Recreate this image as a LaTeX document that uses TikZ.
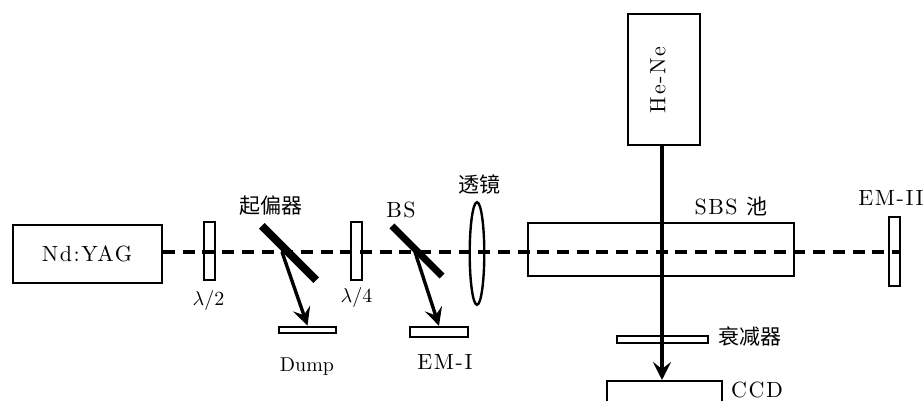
\documentclass[tikz,border=0pt]{standalone}
\usepackage{fontspec}
\usepackage{tikz}
\usetikzlibrary{arrows.meta,shapes.geometric}
\newfontfamily\cjk{Noto Sans CJK SC}
\newfontfamily\widefont[LetterSpace=7]{Latin Modern Roman}
\tikzset{
	devicebox/.style={draw,line width=1.2pt,inner sep=0pt},
	mirrorbar/.style={fill=black,inner sep=0pt},
	beamline/.style={line width=2pt,dash pattern=on 6pt off 3.85pt},
	rayline/.style={line width=1.7pt,-{Stealth[length=9pt,width=9pt,inset=3.5pt]}},
	widetext/.style={font=\widefont\fontsize{11}{13}\selectfont},
	cjktext/.style={font=\cjk\fontsize{10.5}{12}\selectfont},
}
\begin{document}
\begin{tikzpicture}[x=0.5pt,y=-0.5pt]
	\path[use as bounding box] (0,0) rectangle (923,401);
	\clip (0,0) rectangle (923,401);
	% devices on the main axis
	\node[devicebox,minimum width=74.3pt,minimum height=28.8pt] (yag) at (87.5,254) {};
	\node[devicebox,minimum width=5.5pt,minimum height=28.8pt] (halfwave) at (209.5,251) {};
	\node[devicebox,minimum width=5.5pt,minimum height=28.8pt] (quarterwave) at (356.5,251) {};
	\node[devicebox,minimum width=133pt,minimum height=26.5pt] (sbs) at (661,249.5) {};
	\node[devicebox,minimum width=5.5pt,minimum height=34.3pt] (emtwo) at (894.5,251.5) {};
	\node[devicebox,ellipse,minimum width=7.3pt,minimum height=51.3pt] (lens) at (477,253.5) {};
	\node[mirrorbar,rotate=-45,minimum width=38.5pt,minimum height=4pt] (polarizer) at (289,253) {};
	\node[mirrorbar,rotate=-45,minimum width=35.5pt,minimum height=3.5pt] (splitter) at (417,251) {};
	% side arms
	\node[devicebox,minimum width=28.5pt,minimum height=3.2pt] (dump) at (307.5,330) {};
	\node[devicebox,minimum width=28.8pt,minimum height=5pt] (emone) at (439,332) {};
	\node[devicebox,minimum width=35.8pt,minimum height=65.3pt] (hene) at (664,79.5) {};
	\node[devicebox,minimum width=45.3pt,minimum height=3.4pt] (atten) at (662.5,339.5) {};
	\node[devicebox,minimum width=57.3pt,minimum height=30pt] (ccd) at (664.5,411) {};
	\coordinate (polhit) at (282,252);
	\coordinate (splithit) at (415,252);
	\coordinate (ccdtop) at (662,380);
	% beams
	\draw[beamline] (yag.east |- polhit) -- (emtwo.east |- polhit);
	\draw[rayline] (polhit) -- (dump.north);
	\draw[rayline] (splithit) -- (emone.north);
	\draw[rayline] (hene.south -| ccdtop) -- (ccdtop);
	% labels
	\node[widetext] (lyag) at (87,254) {Nd:YAG};
	\node[widetext,rotate=90] (lhene) at (658,80) {He-Ne};
	\node (lhalf) at (208.5,301) {$\lambda/2$};
	\node (lquarter) at (356.5,298) {$\lambda/4$};
	\node[cjktext] (lpol) at (270.5,206) {起偏器};
	\node[widetext] (lbs) at (401,210) {BS};
	\node[cjktext] (llens) at (479,184) {透镜};
	\node[widetext] (lsbs) at (731,206) {SBS {\cjk\fontsize{10.5}{12}\selectfont 池}};
	\node[widetext] (lemtwo) at (891,198) {EM-II};
	\node (ldump) at (307,367) {Dump};
	\node[widetext] (lemone) at (445,362) {EM-I};
	\node[cjktext] (latten) at (750,337) {衰减器};
	\node[widetext] (lccd) at (757,390) {CCD};
\end{tikzpicture}
\end{document}
